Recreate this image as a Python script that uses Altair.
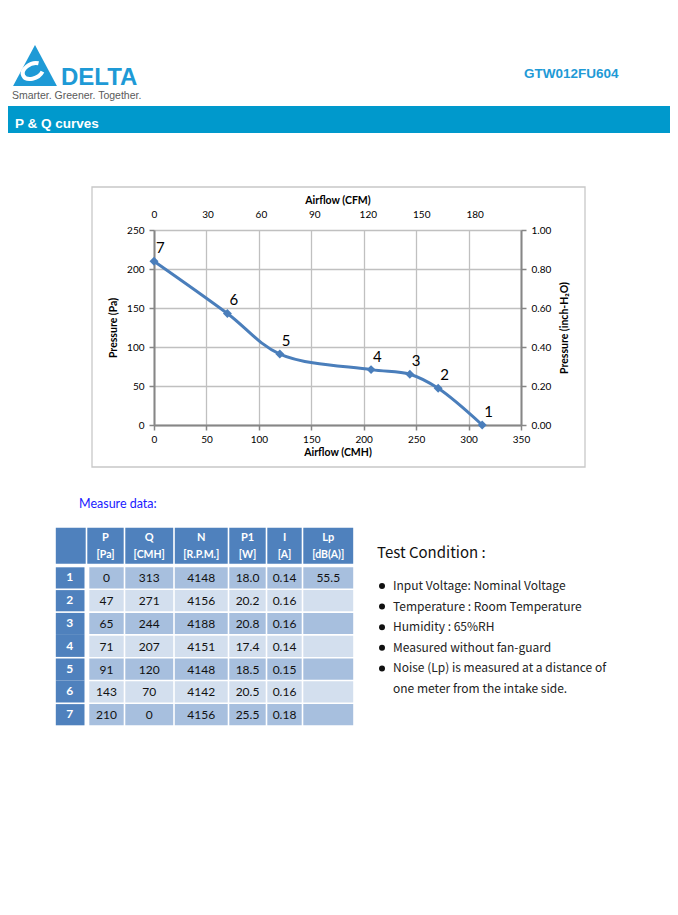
import altair as alt
import pandas as pd

# ---------------- data ----------------
point_no = [1, 2, 3, 4, 5, 6, 7]
pressure_pa = [0, 47, 65, 71, 91, 143, 210]
airflow_cmh = [313, 271, 244, 207, 120, 70, 0]
speed_rpm = ["4148", "4156", "4188", "4151", "4148", "4142", "4156"]
power_w = ["18.0", "20.2", "20.8", "17.4", "18.5", "20.5", "25.5"]
current_a = ["0.14", "0.16", "0.16", "0.14", "0.15", "0.16", "0.18"]
noise_dba = ["55.5", "", "", "", "", "", ""]

cmh_ticks = [0, 50, 100, 150, 200, 250, 300, 350]
cfm_ticks = [0, 30, 60, 90, 120, 150, 180]
pa_ticks = [0, 50, 100, 150, 200, 250]
inh2o_ticks = [0.0, 0.2, 0.4, 0.6, 0.8, 1.0]

col_names = ["P", "Q", "N", "P1", "I", "Lp"]
col_units = ["[Pa]", "[CMH]", "[R.P.M.]", "[W]", "[A]", "[dB(A)]"]

conditions = [
    "Input Voltage: Nominal Voltage",
    "Temperature : Room Temperature",
    "Humidity : 65%RH",
    "Measured without fan-guard",
    "Noise (Lp) is measured at a distance of",
    "one meter from the intake side.",
]
has_bullet = [True, True, True, True, True, False]

model_name = "GTW012FU604"
section_title = "P & Q curves"
brand = "DELTA"
tagline = "Smarter.  Greener.  Together."
table_title = "Measure data:"
cond_title = "Test Condition :"

# ---------------- layout / style ----------------
PLOT_LEFT, PLOT_TOP = 154, 230          # page px of plot origin
PLOT_W, PLOT_H = 367, 195
TOTAL_W, TOTAL_H = 662, 880
CMH_MAX, PA_MAX = 350, 250
CMH_PER_CFM = 1.699
PA_PER_INH2O = 250.0

BLUE_LINE = "#4A7EBB"
GRID = "#c0c0c0"
AXIS = "#868686"
BRAND = "#1E9AD6"
BAR = "#0099CC"
HEAD = "#4F81BD"
DARK = "#A7BFDE"
LIGHT = "#D3DFEE"
FONT = "Lato"
ARIAL = "Liberation Sans"
CJK = "Noto Sans CJK TC"

PX = alt.Scale(domain=[0, 678], range=[-PLOT_LEFT, 678 - PLOT_LEFT])
PY = alt.Scale(domain=[0, 915], range=[-PLOT_TOP, 915 - PLOT_TOP])


def pos(xf="x", yf="y"):
    return dict(x=alt.X(f"{xf}:Q", scale=PX, axis=None),
                y=alt.Y(f"{yf}:Q", scale=PY, axis=None))


def text_layer(rows, font, weight="normal", align="left", baseline="middle"):
    df = pd.DataFrame(rows, columns=["x", "y", "t", "s", "c"])
    return alt.Chart(df).mark_text(font=font, fontWeight=weight, align=align,
                                   baseline=baseline).encode(
        **pos(), text="t:N",
        size=alt.Size("s:Q", scale=None),
        color=alt.Color("c:N", scale=None))


# ---------------- header ----------------
bar = alt.Chart(pd.DataFrame({"x": [8], "x2": [670], "y": [106], "y2": [133]})).mark_rect(
    color=BAR).encode(**pos(), x2="x2:Q", y2="y2:Q")

logo_tri = alt.Chart(pd.DataFrame({"x": [35], "y": [65.5]})).mark_point(
    shape="M0,-1L1.07,1L-1.07,1Z", filled=True, color=BRAND, opacity=1, size=1681).encode(**pos())
logo_swirl = alt.Chart(pd.DataFrame({"x": [33], "y": [71]})).mark_point(
    shape="M0.46,-0.64 A0.9,0.6 -25 1 0 0.79,0.06", filled=False, stroke="white",
    strokeWidth=4, opacity=1, size=576).encode(**pos())
logo_text = text_layer([[61, 85, brand, 24, BRAND]], ARIAL, "bold", baseline="alphabetic")
tag_text = text_layer([[12, 95.5, tagline, 10.5, "#5a5a5a"]], ARIAL)
model_text = text_layer([[524, 74, model_name, 13.5, BRAND]], ARIAL, "bold")
section_text = text_layer([[15, 124, section_title, 13.5, "white"]], ARIAL, "bold")

frame = alt.Chart(pd.DataFrame({"x": [92], "x2": [585], "y": [187], "y2": [467]})).mark_rect(
    fill=None, stroke="#c8c8c8", strokeWidth=1.3).encode(**pos(), x2="x2:Q", y2="y2:Q")

# ---------------- P-Q chart ----------------
pq = pd.DataFrame({"no": point_no, "P": pressure_pa, "Q": airflow_cmh})
xq = alt.Scale(domain=[0, CMH_MAX])
yp = alt.Scale(domain=[0, PA_MAX])

common_axis = dict(labelFont=FONT, labelFontSize=10, labelColor="#000", labelOverlap=False,
                   titleFont=FONT, titleFontSize=10.5, titleFontWeight="bold", titleColor="#000",
                   domainColor=AXIS, domainWidth=2, tickColor=AXIS, tickWidth=1.5, tickSize=5)

line = alt.Chart(pq).mark_line(color=BLUE_LINE, strokeWidth=3, interpolate="catmull-rom").encode(
    x=alt.X("Q:Q", scale=xq, axis=alt.Axis(
        orient="bottom", values=cmh_ticks, title="Airflow (CMH)", grid=True, gridColor=GRID,
        gridWidth=1.3, labelPadding=4, labelFlush=False, titlePadding=3, **common_axis)),
    y=alt.Y("P:Q", scale=yp, axis=alt.Axis(
        orient="left", values=pa_ticks, title="Pressure (Pa)", grid=True, gridColor=GRID,
        gridWidth=1.3, labelPadding=5, titlePadding=8, **common_axis)),
)
points = alt.Chart(pq).mark_point(shape="diamond", filled=True, color=BLUE_LINE, opacity=1,
                                  size=80).encode(
    x=alt.X("Q:Q", scale=xq, axis=None), y=alt.Y("P:Q", scale=yp, axis=None))
labels = alt.Chart(pq).mark_text(font=FONT, fontSize=15, color="#000", align="left",
                                 baseline="middle", dx=2, dy=-13).encode(
    x=alt.X("Q:Q", scale=xq, axis=None), y=alt.Y("P:Q", scale=yp, axis=None), text="no:N")

aux = alt.Chart(pq).transform_calculate(
    cfm=f"datum.Q / {CMH_PER_CFM}", inh=f"datum.P / {PA_PER_INH2O}"
).mark_point(opacity=0).encode(
    x=alt.X("cfm:Q", scale=alt.Scale(domain=[0, CMH_MAX / CMH_PER_CFM]), axis=alt.Axis(
        orient="top", values=cfm_ticks, title="Airflow (CFM)", domain=False, tickOpacity=0,
        labelPadding=6, labelFlush=False, titlePadding=4, **common_axis)),
    y=alt.Y("inh:Q", scale=alt.Scale(domain=[0, PA_MAX / PA_PER_INH2O]), axis=alt.Axis(
        orient="right", values=inh2o_ticks, format=".2f", title="Pressure (inch-H\u2082O)",
        titleAngle=270, titleBaseline="top", labelPadding=5, titlePadding=9, **common_axis)),
)

# ---------------- table ----------------
COL_EDGES = [55, 86.5, 124.5, 174, 228.5, 266.5, 302.5, 354]
BODY_IDX_RIGHT, BODY_P_LEFT = 84.5, 88.5
HEAD_TOP, HEAD_BOT = 527, 564.5
ROW_TOP, ROW_H = 566.5, 22.8
G = 0.8
sep_before = [True, True, True, False, True, False, True]

cells, texts = [], []
for c in range(7):
    cells.append([COL_EDGES[c] + G, COL_EDGES[c + 1] - G, HEAD_TOP + G, HEAD_BOT - G, HEAD])
for c, (nm, un) in enumerate(zip(col_names, col_units)):
    cx = (COL_EDGES[c + 1] + COL_EDGES[c + 2]) / 2
    texts.append([cx, 537.5, nm, 11, "white", "bold"])
    texts.append([cx, 555, un, 10.5, "white", "bold"])
cols = [pressure_pa, airflow_cmh, speed_rpm, power_w, current_a, noise_dba]
for r in range(7):
    top = ROW_TOP + r * ROW_H
    bot = top + ROW_H
    fill = DARK if r % 2 == 0 else LIGHT
    it = top + (G if sep_before[r] else 0)
    ib = bot - (G if (r == 6 or sep_before[r + 1]) else 0)
    cells.append([COL_EDGES[0] + G, BODY_IDX_RIGHT, it, ib, HEAD])
    texts.append([(COL_EDGES[0] + BODY_IDX_RIGHT) / 2, top + ROW_H / 2 - 0.5,
                  str(point_no[r]), 12, "white", "bold"])
    for c in range(6):
        left = BODY_P_LEFT if c == 0 else COL_EDGES[c + 1]
        right = COL_EDGES[c + 2]
        cells.append([left + G, right - G, top + G, bot - G, fill])
        texts.append([(left + right) / 2, top + ROW_H / 2 + 0.5, str(cols[c][r]), 12, "#111111",
                      "normal"])

cell_df = pd.DataFrame(cells, columns=["x", "x2", "y", "y2", "c"])
table_cells = alt.Chart(cell_df).mark_rect().encode(
    **pos(), x2="x2:Q", y2="y2:Q", color=alt.Color("c:N", scale=None))
tdf = pd.DataFrame(texts, columns=["x", "y", "t", "s", "c", "w"])
table_bold = text_layer(tdf[tdf.w == "bold"][["x", "y", "t", "s", "c"]].values.tolist(), FONT,
                        "bold", align="center")
table_norm = text_layer(tdf[tdf.w == "normal"][["x", "y", "t", "s", "c"]].values.tolist(), FONT,
                        align="center")
table_title_t = text_layer([[79, 504, table_title, 12.5, "#1a1aff"]], FONT)

# ---------------- test condition ----------------
COND_Y0, COND_DY = 586, 20.6
cond_title_t = text_layer([[377, 553, cond_title, 15, "#111111"]], CJK)
cond_rows = [[393, COND_Y0 + i * COND_DY, t, 12, "#222222"] for i, t in enumerate(conditions)]
cond_text = text_layer(cond_rows, CJK)
bul_df = pd.DataFrame({"x": [382] * sum(has_bullet),
                       "y": [COND_Y0 + i * COND_DY for i, b in enumerate(has_bullet) if b]})
bullets = alt.Chart(bul_df).mark_circle(color="#111111", size=36, opacity=1).encode(**pos())

chart = alt.layer(
    bar, frame, line, points, labels, aux,
    logo_tri, logo_swirl, logo_text, tag_text, model_text, section_text,
    table_cells, table_bold, table_norm, table_title_t,
    cond_title_t, cond_text, bullets,
).resolve_scale(x="independent", y="independent").properties(
    width=PLOT_W, height=PLOT_H,
    autosize=alt.AutoSizeParams(type="none"),
    padding={"left": PLOT_LEFT - 8, "top": PLOT_TOP - 8,
             "right": TOTAL_W - (PLOT_LEFT - 8) - PLOT_W,
             "bottom": TOTAL_H - (PLOT_TOP - 8) - PLOT_H},
    background="white",
).configure_view(strokeWidth=0)

chart.save("out.html", embed_options={"renderer": "svg", "actions": False})
